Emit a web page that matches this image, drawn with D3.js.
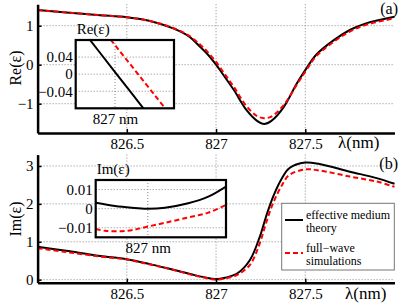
<!DOCTYPE html>
<html>
<head>
<meta charset="utf-8">
<script src="https://cdn.jsdelivr.net/npm/d3@7"></script>
<style>
  body { margin: 0; background: #fff; }
  svg text { font-family: "Liberation Serif", "Times New Roman", "DejaVu Serif", serif !important; }
</style>
</head>
<body>
<div id="chart"></div>
<script>
// Data
const reLambda = [826.0, 826.16, 826.35, 826.5, 826.63, 826.76, 826.85, 826.91, 826.95, 827.0, 827.05, 827.1, 827.17, 827.23, 827.27, 827.31, 827.38, 827.45, 827.5, 827.56, 827.66, 827.75, 827.84, 828.0];
const reTheory = [1.40, 1.34, 1.27, 1.215, 1.12, 0.93, 0.72, 0.46, 0.28, 0.0, -0.32, -0.65, -1.16, -1.44, -1.52, -1.44, -1.08, -0.50, -0.14, 0.25, 0.63, 0.89, 1.06, 1.23];
const reSim    = [1.40, 1.34, 1.27, 1.215, 1.12, 0.94, 0.74, 0.52, 0.34, 0.07, -0.25, -0.57, -1.06, -1.32, -1.37, -1.33, -1.03, -0.53, -0.18, 0.21, 0.59, 0.85, 1.02, 1.19];

const imLambda = [826.0, 826.16, 826.35, 826.5, 826.63, 826.76, 826.88, 826.97, 827.0, 827.05, 827.12, 827.19, 827.245, 827.28, 827.32, 827.37, 827.41, 827.5, 827.58, 827.75, 827.9, 828.0];
const imTheory = [0.87, 0.76, 0.625, 0.54, 0.41, 0.26, 0.12, 0.03, 0.01, 0.05, 0.17, 0.52, 1.13, 1.66, 2.19, 2.68, 2.94, 3.09, 3.05, 2.85, 2.68, 2.53];
const imSim    = [0.83, 0.73, 0.61, 0.53, 0.40, 0.26, 0.11, 0.02, 0.0, 0.03, 0.13, 0.39, 0.96, 1.49, 2.02, 2.50, 2.76, 2.91, 2.88, 2.72, 2.59, 2.45];

// insets (zoom around 827 nm)
const insetReLambda = [826.98, 827.0, 827.02, 827.03];
const insetReTheory = [0.123, 0.005, -0.113, -0.172];
const insetReSim    = [0.184, 0.068, -0.048, -0.106];

const insetImLambdaTheory = [826.98, 826.9874, 826.9938, 826.9996, 827.0066, 827.0155, 827.0232, 827.03];
const insetImTheory = [0.0031, 0.0014, 0.0005, 0.0, 0.0005, 0.0028, 0.0063, 0.0116];
const insetImLambdaSim = [826.98, 826.9836, 826.99, 826.9951, 826.9996, 827.0066, 827.0155, 827.0232, 827.03];
const insetImSim = [-0.0107, -0.0116, -0.0118, -0.0109, -0.0095, -0.0074, -0.0046, -0.0021, 0.0019];

const xTicks = [826.5, 827, 827.5];
const reTicks = [-1, 0, 1];
const imTicks = [0, 1, 2, 3];
const insetReTicks = [-0.04, 0, 0.04];
const insetImTicks = [-0.01, 0, 0.01];
const legendLabels = [["effective medium", "theory"], ["full\u2212wave", "simulations"]];

const fmt = d => String(d).replace("-", "\u2212");
const serif = "Liberation Serif, Times New Roman, DejaVu Serif, serif";

// Dimensions
const width = 415, height = 307;
const svg = d3.select("#chart").append("svg")
  .attr("width", width).attr("height", height)
  .attr("font-family", serif);

const x = d3.scaleLinear().domain([826, 828]).range([37.6, 394.5]);
const yRe = d3.scaleLinear().domain([-1.75, 1.55]).range([132.95, 4.25]);
const yIm = d3.scaleLinear().domain([-0.08, 3.3]).range([282.7, 154.6]);

const gridStyle = sel => sel.attr("stroke", "#888").attr("stroke-width", 1).attr("stroke-dasharray", "1,2");

function curve(g, xs, ys, xScale, yScale, dashed) {
  const line = d3.line()
    .x((d, i) => xScale(xs[i]))
    .y(d => yScale(d))
    .curve(d3.curveCatmullRom.alpha(0.5));
  g.append("path")
    .attr("d", line(ys))
    .attr("fill", "none")
    .attr("stroke", dashed ? "#ff0000" : "#000")
    .attr("stroke-width", 2)
    .attr("stroke-dasharray", dashed ? "5,3" : null);
}

function panel(yScale, yTicks, theoryX, theory, simX, sim, opts) {
  const g = svg.append("g");
  const [x0, x1] = x.range();
  const [yb, yt] = yScale.range();

  // grid
  g.selectAll(".hg").data(yTicks).join("line")
    .attr("x1", x0).attr("x2", x1)
    .attr("y1", d => yScale(d)).attr("y2", d => yScale(d))
    .call(gridStyle);
  g.selectAll(".vg").data(xTicks).join("line")
    .attr("x1", d => x(d)).attr("x2", d => x(d))
    .attr("y1", yt).attr("y2", yb)
    .call(gridStyle);

  curve(g, theoryX, theory, x, yScale, false);
  curve(g, simX, sim, x, yScale, true);

  // axes
  const xAxis = g.append("g")
    .attr("transform", `translate(0,${yb})`)
    .call(d3.axisBottom(x).tickValues(xTicks).tickFormat(d => d)
      .tickSizeInner(-4).tickSizeOuter(0).tickPadding(opts.xPad));
  const yAxis = g.append("g")
    .attr("transform", `translate(${x0},0)`)
    .call(d3.axisLeft(yScale).tickValues(yTicks).tickFormat(fmt)
      .tickSizeInner(-4).tickSizeOuter(0).tickPadding(4));
  [xAxis, yAxis].forEach(a => {
    a.attr("font-family", serif).attr("font-size", 15);
    a.select(".domain").attr("stroke-width", 2.5);
    a.selectAll(".tick line").attr("stroke-width", 1.5);
    a.selectAll("text").attr("fill", "#000");
  });

  g.append("text")
    .attr("transform", `translate(21,${opts.labelY}) rotate(-90)`)
    .attr("text-anchor", "middle")
    .attr("font-size", 16)
    .text(opts.label);
  g.append("text")
    .attr("x", opts.lamX).attr("y", opts.lamY)
    .attr("font-size", 17)
    .text("\u03bb(nm)");
  g.append("text")
    .attr("x", 398).attr("y", opts.tagY)
    .attr("text-anchor", "end")
    .attr("font-size", 16)
    .text(opts.tag);
  return g;
}

function inset(box, yDomain, yTicks, series, title, id) {
  const xs = d3.scaleLinear().domain([826.98, 827.03]).range([box.x0, box.x1]);
  const ys = d3.scaleLinear().domain(yDomain).range([box.y1, box.y0]);
  const g = svg.append("g");

  g.append("rect")
    .attr("x", box.x0).attr("y", box.y0)
    .attr("width", box.x1 - box.x0).attr("height", box.y1 - box.y0)
    .attr("fill", "#fff");

  g.append("clipPath").attr("id", id).append("rect")
    .attr("x", box.x0).attr("y", box.y0)
    .attr("width", box.x1 - box.x0).attr("height", box.y1 - box.y0);

  const inner = g.append("g").attr("clip-path", `url(#${id})`);
  inner.selectAll(".hg").data(yTicks).join("line")
    .attr("x1", box.x0).attr("x2", box.x1)
    .attr("y1", d => ys(d)).attr("y2", d => ys(d))
    .call(gridStyle);
  inner.append("line")
    .attr("x1", xs(827)).attr("x2", xs(827))
    .attr("y1", box.y0).attr("y2", box.y1)
    .call(gridStyle);
  series.forEach(s => curve(inner, s.x, s.y, xs, ys, s.dashed));

  g.append("rect")
    .attr("x", box.x0).attr("y", box.y0)
    .attr("width", box.x1 - box.x0).attr("height", box.y1 - box.y0)
    .attr("fill", "none").attr("stroke", "#000").attr("stroke-width", 2.2);

  const ya = g.append("g")
    .attr("transform", `translate(${box.x0},0)`)
    .call(d3.axisLeft(ys).tickValues(yTicks).tickFormat(fmt)
      .tickSizeInner(0).tickSizeOuter(0).tickPadding(3));
  const xa = g.append("g")
    .attr("transform", `translate(0,${box.y1})`)
    .call(d3.axisBottom(xs).tickValues([827]).tickFormat(d => d + " nm")
      .tickSizeInner(0).tickSizeOuter(0).tickPadding(5));
  [ya, xa].forEach(a => {
    a.attr("font-family", serif).attr("font-size", 15);
    a.select(".domain").remove();
    a.selectAll("text").attr("fill", "#000");
  });

  g.append("text")
    .attr("x", box.x0 + 1).attr("y", box.y0 - 6)
    .attr("font-size", 15)
    .text(title);
}

// panel (a)
panel(yRe, reTicks, reLambda, reTheory, reLambda, reSim,
  { label: "Re(\u03b5)", labelY: 68, lamX: 338, lamY: 148, tag: "(a)", tagY: 14, xPad: 5 });
inset({ x0: 75.7, x1: 174, y0: 40, y1: 108.3 }, [-0.08, 0.08], insetReTicks, [
  { x: insetReLambda, y: insetReTheory, dashed: false },
  { x: insetReLambda, y: insetReSim, dashed: true }
], "Re(\u03b5)", "clipA");

// panel (b)
panel(yIm, imTicks, imLambda, imTheory, imLambda, imSim,
  { label: "Im(\u03b5)", labelY: 219, lamX: 345, lamY: 299, tag: "(b)", tagY: 169, xPad: 6 });
inset({ x0: 95.7, x1: 226, y0: 180, y1: 237.3 }, [-0.015, 0.015], insetImTicks, [
  { x: insetImLambdaTheory, y: insetImTheory, dashed: false },
  { x: insetImLambdaSim, y: insetImSim, dashed: true }
], "Im(\u03b5)", "clipB");

// legend
const legend = svg.append("g");
legend.append("rect")
  .attr("x", 281.7).attr("y", 203.3).attr("width", 112.6).attr("height", 66.7)
  .attr("fill", "#fff").attr("stroke", "#777").attr("stroke-width", 1);
legendLabels.forEach((lines, i) => {
  const ly = 220 + i * 33;
  legend.append("line")
    .attr("x1", 285).attr("x2", 303).attr("y1", ly).attr("y2", ly)
    .attr("stroke", i ? "#ff0000" : "#000").attr("stroke-width", 2)
    .attr("stroke-dasharray", i ? "5,3" : null);
  legend.append("text")
    .attr("x", 306).attr("y", ly - 1)
    .attr("font-size", 12)
    .selectAll("tspan").data(lines).join("tspan")
    .attr("x", 306).attr("dy", (d, j) => j ? 13 : 0)
    .text(d => d);
});
</script>
</body>
</html>
